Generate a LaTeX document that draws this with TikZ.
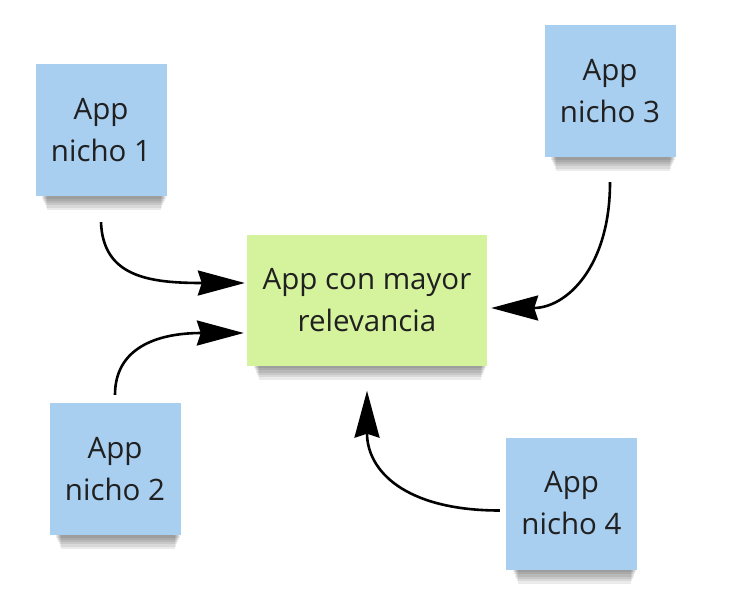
\documentclass[tikz,border=0pt]{standalone}
\usepackage{fontspec}
\setmainfont{Open Sans}
\usetikzlibrary{arrows.meta,positioning,backgrounds}
\definecolor{noteBlue}{RGB}{168,206,240}
\definecolor{noteGreen}{RGB}{213,243,157}
\definecolor{inkDark}{RGB}{32,32,32}

\tikzset{
  note/.style={fill=noteBlue, minimum width=131pt, minimum height=132pt, inner sep=0pt,
    align=center, text=inkDark, font=\fontsize{29.5}{42}\selectfont},
  mainnote/.style={note, fill=noteGreen, minimum width=240pt, minimum height=131pt},
  flow/.style={line width=2.6pt, -{Stealth[length=47pt,width=25pt,inset=4pt]}},
}

% soft shadow under a note
\newcommand{\noteshadow}[1]{%
  \foreach \k in {1,...,6}{%
    \fill[black, opacity=0.08] ([xshift={6pt+\k pt}]#1.south west) rectangle ([xshift={-\k pt}, yshift={-2.3pt*\k}]#1.south east);
  }%
}

\begin{document}
\begin{tikzpicture}[x=1pt, y=-1pt]
  \useasboundingbox (0,0) rectangle (738,603);

  % notes
  \node[note] (n1) at (101,130) {App\\nicho 1};
  \node[note] (n2) at (115,469) {App\\nicho 2};
  \node[note] (n3) at (610,91) {App\\nicho 3};
  \node[note] (n4) at (571.5,503.5) {App\\nicho 4};
  \node[mainnote] (c) at (367,300) {App con mayor\\relevancia};

  % shadows
  \begin{scope}[on background layer]
    \noteshadow{n1}
    \noteshadow{n2}
    \noteshadow{n3}
    \noteshadow{n4}
    \noteshadow{c}
  \end{scope}

  % arrows
  \draw[flow] ([yshift=-26pt]n1.south) .. controls +(2,55) and +(-95,0) .. ([xshift=-2pt,yshift=17pt]c.west);
  \draw[flow] ([yshift=8pt]n2.north) .. controls +(0,-45) and +(-90,0) .. ([xshift=-3pt,yshift=-33pt]c.west);
  \draw[flow] ([yshift=-25pt]n3.south) .. controls +(0,85) and +(75,0) .. ([xshift=4pt,yshift=-8pt]c.east);
  \draw[flow] ([xshift=-6pt,yshift=-7pt]n4.west) .. controls +(-95,0) and +(0,80) .. ([yshift=-25pt]c.south);
\end{tikzpicture}
\end{document}
